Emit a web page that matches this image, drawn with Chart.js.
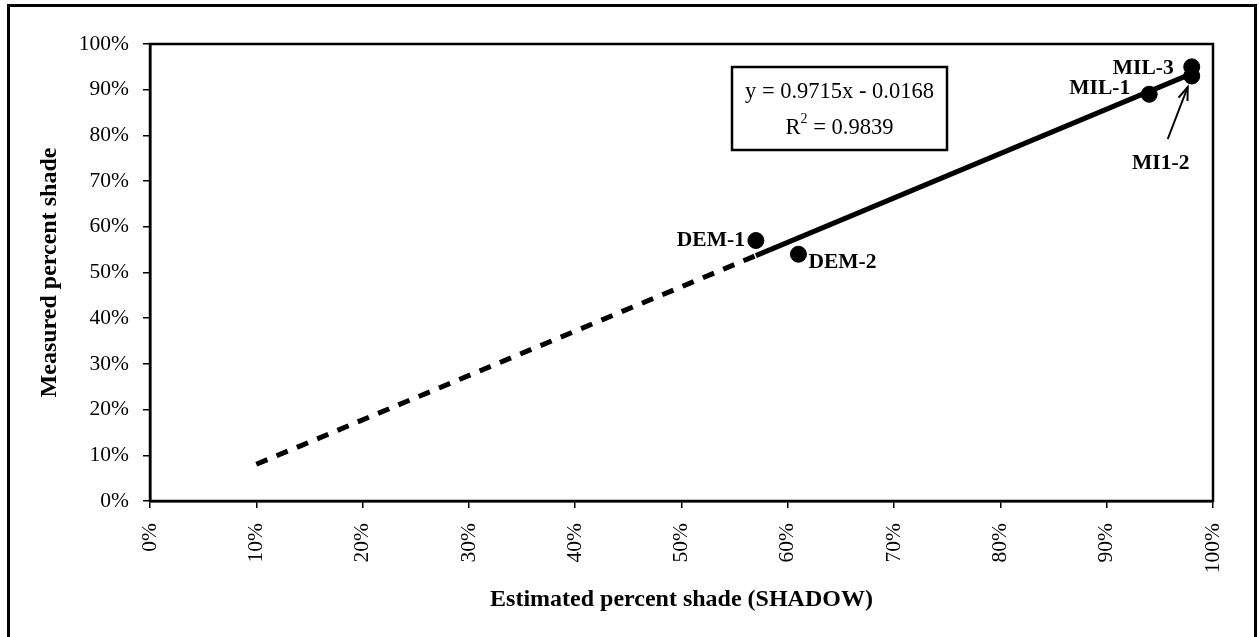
<!DOCTYPE html>
<html>
<head>
<meta charset="utf-8">
<script src="https://cdn.jsdelivr.net/npm/chart.js@4/dist/chart.umd.min.js"></script>
<style>
  html, body { margin: 0; padding: 0; background: #fff; }
  #wrap { width: 1259px; height: 637px; position: relative; }
</style>
</head>
<body>
<div id="wrap"><canvas id="c" width="1259" height="637"></canvas></div>
<script>
// Site names and their shade values (percent)
const siteNames   = ['DEM-1', 'DEM-2', 'MIL-1', 'MIL-3', 'MI1-2'];
const estimated   = [57, 61, 94, 98, 98];   // SHADOW estimate
const measured    = [57, 54, 89, 95, 93];   // field measurement

// Linear fit reported in the text box
const slope = 0.9715;
const intercept = -0.0168;
const rSquared = 0.9839;

// Trend line range (solid over the data, dashed extension back to 10%)
const solidRange  = [57, 98];
const dashedRange = [10, 57];

const axisTicks = [0, 10, 20, 30, 40, 50, 60, 70, 80, 90, 100];

const fitY = x => (slope * (x / 100) + intercept) * 100;
const lineFrom = r => r.map(x => ({ x: x, y: fitY(x) }));

const serif = "'Liberation Serif', 'Times New Roman', serif";

const decorations = {
  id: 'decorations',
  afterDraw(chart) {
    const { ctx, chartArea: a, scales: { x, y } } = chart;
    ctx.save();
    // outer frame
    ctx.strokeStyle = '#000';
    ctx.lineWidth = 3;
    ctx.strokeRect(8.5, 5.5, 1247, 700);
    // plot box
    ctx.lineWidth = 2.5;
    ctx.strokeRect(a.left, a.top, a.right - a.left, a.bottom - a.top);

    // equation box
    ctx.fillStyle = '#fff';
    ctx.fillRect(732, 67, 215, 83);
    ctx.lineWidth = 2.5;
    ctx.strokeRect(732, 67, 215, 83);
    ctx.fillStyle = '#000';
    ctx.font = '22.5px ' + serif;
    ctx.textBaseline = 'middle';
    ctx.textAlign = 'center';
    const eq = 'y = ' + slope.toFixed(4) + 'x - ' + Math.abs(intercept).toFixed(4);
    ctx.fillText(eq, 839.5, 92);
    // R² line with superscript
    const base = 'R', rest = ' = ' + rSquared.toFixed(4);
    const wR = ctx.measureText(base).width;
    ctx.font = '14px ' + serif;
    const wS = ctx.measureText('2').width;
    ctx.font = '22.5px ' + serif;
    const wRest = ctx.measureText(rest).width;
    let sx = 839.5 - (wR + wS + wRest) / 2;
    ctx.textAlign = 'left';
    ctx.fillText(base, sx, 128);
    ctx.font = '14px ' + serif;
    ctx.fillText('2', sx + wR, 119);
    ctx.font = '22.5px ' + serif;
    ctx.fillText(rest, sx + wR + wS, 128);

    // point labels
    ctx.font = 'bold 21.5px ' + serif;
    const px = i => x.getPixelForValue(estimated[i]);
    const py = i => y.getPixelForValue(measured[i]);
    ctx.textAlign = 'right';
    ctx.fillText(siteNames[0], px(0) - 11, py(0));
    ctx.textAlign = 'left';
    ctx.fillText(siteNames[1], px(1) + 10, py(1) + 8);
    ctx.textAlign = 'right';
    ctx.fillText(siteNames[2], px(2) - 19, py(2) - 6);
    ctx.fillText(siteNames[3], px(3) - 18, py(3) + 2);
    ctx.textAlign = 'center';
    ctx.fillText(siteNames[4], px(4) - 31, py(4) + 87);

    // arrow to MI1-2
    const tipX = px(4) - 4, tipY = py(4) + 11;
    const tailX = px(4) - 24, tailY = py(4) + 63;
    ctx.lineWidth = 2;
    ctx.beginPath();
    ctx.moveTo(tailX, tailY);
    ctx.lineTo(tipX, tipY);
    ctx.stroke();
    const ang = Math.atan2(tipY - tailY, tipX - tailX);
    ctx.beginPath();
    ctx.moveTo(tipX - 14 * Math.cos(ang - 0.35), tipY - 14 * Math.sin(ang - 0.35));
    ctx.lineTo(tipX, tipY);
    ctx.lineTo(tipX - 14 * Math.cos(ang + 0.35), tipY - 14 * Math.sin(ang + 0.35));
    ctx.stroke();
    ctx.restore();
  }
};

new Chart(document.getElementById('c'), {
  type: 'scatter',
  data: {
    datasets: [
      {
        label: 'Trend (extension)',
        data: lineFrom(dashedRange),
        showLine: true,
        borderColor: '#000',
        borderWidth: 5,
        borderDash: [12, 10],
        pointRadius: 0,
        order: 3
      },
      {
        label: 'Trend',
        data: lineFrom(solidRange),
        showLine: true,
        borderColor: '#000',
        borderWidth: 5,
        pointRadius: 0,
        order: 2
      },
      {
        label: 'Sites',
        data: estimated.map((v, i) => ({ x: v, y: measured[i] })),
        backgroundColor: '#000',
        borderColor: '#000',
        pointRadius: 8,
        pointHoverRadius: 8,
        order: 1
      }
    ]
  },
  options: {
    responsive: false,
    animation: false,
    layout: { padding: { top: 44, right: 46, left: 0, bottom: 0 } },
    plugins: { legend: { display: false }, tooltip: { enabled: false } },
    scales: {
      x: {
        type: 'linear',
        min: 0, max: 100,
        afterFit(s) { s.height = 136; },
        afterBuildTicks(s) { s.ticks = axisTicks.map(v => ({ value: v })); },
        grid: { display: true, drawOnChartArea: false, drawTicks: true, tickLength: 7, color: '#000', lineWidth: 1.5 },
        border: { display: true, color: '#000', width: 2.5 },
        ticks: {
          minRotation: 90, maxRotation: 90, padding: 15,
          color: '#000',
          font: { family: serif, size: 21.5 },
          callback: v => v + '%'
        },
        title: {
          display: true,
          text: 'Estimated percent shade (SHADOW)',
          color: '#000',
          font: { family: serif, size: 24, weight: 'bold' },
          padding: { top: 0, bottom: 23 }
        }
      },
      y: {
        type: 'linear',
        min: 0, max: 100,
        afterFit(s) { s.width = 150; },
        afterBuildTicks(s) { s.ticks = axisTicks.map(v => ({ value: v })); },
        grid: { display: true, drawOnChartArea: false, drawTicks: true, tickLength: 7, color: '#000', lineWidth: 1.5 },
        border: { display: true, color: '#000', width: 2.5 },
        ticks: {
          padding: 14,
          color: '#000',
          font: { family: serif, size: 21.5 },
          callback: v => v + '%'
        },
        title: {
          display: true,
          text: 'Measured percent shade',
          color: '#000',
          font: { family: serif, size: 24, weight: 'bold' },
          padding: { top: 35, bottom: 0 }
        }
      }
    }
  },
  plugins: [decorations]
});
</script>
</body>
</html>
